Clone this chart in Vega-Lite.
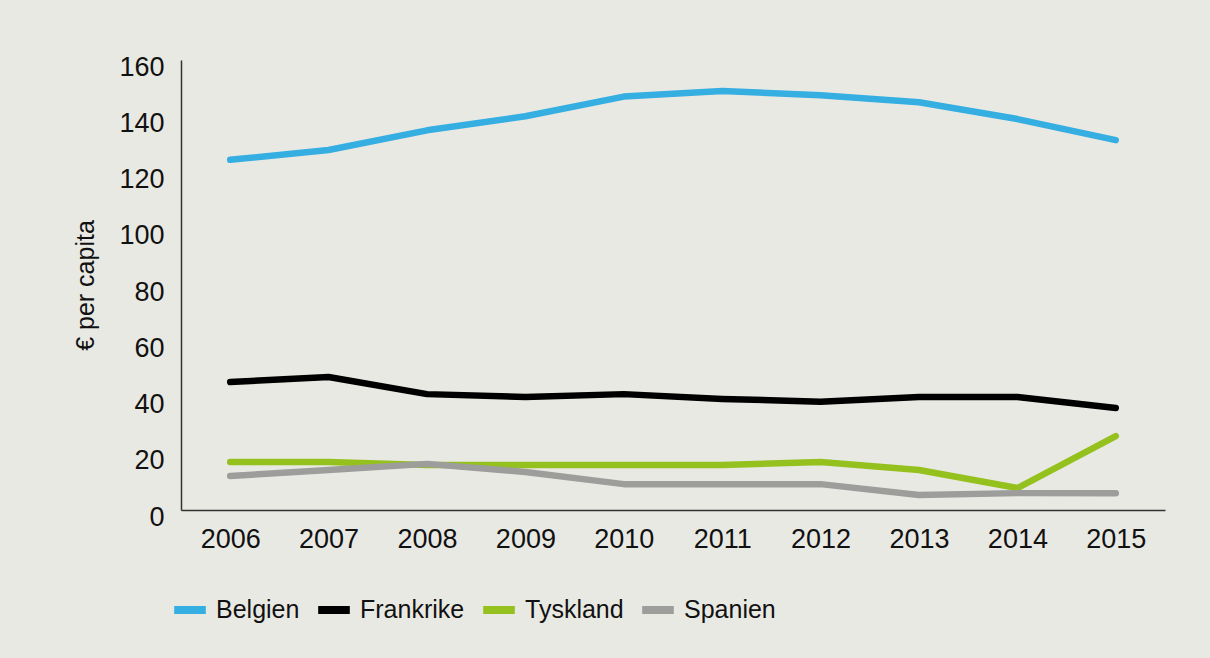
{
  "$schema": "https://vega.github.io/schema/vega-lite/v6.json",
  "width": 984,
  "height": 450,
  "autosize": {"type": "none"},
  "padding": {"left": 181, "top": 60, "right": 45, "bottom": 148},
  "background": "#e9e9e4",
  "config": {
    "view": {"stroke": null},
    "font": "Liberation Sans"
  },
  "data": {
    "values": [
      {"year": "2006", "country": "Belgien", "value": 124.5},
      {"year": "2007", "country": "Belgien", "value": 128},
      {"year": "2008", "country": "Belgien", "value": 135},
      {"year": "2009", "country": "Belgien", "value": 140},
      {"year": "2010", "country": "Belgien", "value": 147},
      {"year": "2011", "country": "Belgien", "value": 149},
      {"year": "2012", "country": "Belgien", "value": 147.5},
      {"year": "2013", "country": "Belgien", "value": 145},
      {"year": "2014", "country": "Belgien", "value": 139},
      {"year": "2015", "country": "Belgien", "value": 131.5},
      {"year": "2006", "country": "Frankrike", "value": 45.5},
      {"year": "2007", "country": "Frankrike", "value": 47.3},
      {"year": "2008", "country": "Frankrike", "value": 41.2},
      {"year": "2009", "country": "Frankrike", "value": 40.2},
      {"year": "2010", "country": "Frankrike", "value": 41.2},
      {"year": "2011", "country": "Frankrike", "value": 39.5},
      {"year": "2012", "country": "Frankrike", "value": 38.5},
      {"year": "2013", "country": "Frankrike", "value": 40.2},
      {"year": "2014", "country": "Frankrike", "value": 40.2},
      {"year": "2015", "country": "Frankrike", "value": 36.3},
      {"year": "2006", "country": "Tyskland", "value": 17.1},
      {"year": "2007", "country": "Tyskland", "value": 17.1},
      {"year": "2008", "country": "Tyskland", "value": 16},
      {"year": "2009", "country": "Tyskland", "value": 16},
      {"year": "2010", "country": "Tyskland", "value": 16},
      {"year": "2011", "country": "Tyskland", "value": 16},
      {"year": "2012", "country": "Tyskland", "value": 17.1},
      {"year": "2013", "country": "Tyskland", "value": 14.2},
      {"year": "2014", "country": "Tyskland", "value": 7.8},
      {"year": "2015", "country": "Tyskland", "value": 26.3},
      {"year": "2006", "country": "Spanien", "value": 12.1},
      {"year": "2007", "country": "Spanien", "value": 14.2},
      {"year": "2008", "country": "Spanien", "value": 16.4},
      {"year": "2009", "country": "Spanien", "value": 13.5},
      {"year": "2010", "country": "Spanien", "value": 9.2},
      {"year": "2011", "country": "Spanien", "value": 9.2},
      {"year": "2012", "country": "Spanien", "value": 9.2},
      {"year": "2013", "country": "Spanien", "value": 5.3},
      {"year": "2014", "country": "Spanien", "value": 6},
      {"year": "2015", "country": "Spanien", "value": 6}
    ]
  },
  "mark": {"type": "line", "strokeWidth": 6.5, "strokeCap": "round", "strokeJoin": "round"},
  "encoding": {
    "x": {
      "field": "year",
      "type": "ordinal",
      "scale": {"type": "point", "padding": 0.5},
      "axis": {
        "title": null,
        "labelAngle": 0,
        "ticks": false,
        "grid": false,
        "domainColor": "#333333",
        "domainWidth": 1.5,
        "labelFontSize": 27,
        "labelColor": "#111111",
        "labelPadding": 16
      }
    },
    "y": {
      "field": "value",
      "type": "quantitative",
      "scale": {"domain": [0, 160], "nice": false, "zero": true},
      "axis": {
        "title": "€ per capita",
        "titleFontSize": 25,
        "titleFontWeight": "normal",
        "titleColor": "#111111",
        "titlePadding": 20,
        "values": [0, 20, 40, 60, 80, 100, 120, 140, 160],
        "ticks": false,
        "grid": false,
        "domainColor": "#333333",
        "domainWidth": 1.5,
        "labelFontSize": 27,
        "labelColor": "#111111",
        "labelPadding": 17,
        "labelOffset": 7
      }
    },
    "color": {
      "field": "country",
      "type": "nominal",
      "sort": ["Belgien", "Frankrike", "Tyskland", "Spanien"],
      "scale": {
        "domain": ["Belgien", "Frankrike", "Tyskland", "Spanien"],
        "range": ["#35aee2", "#000000", "#95c11f", "#9d9d9c"]
      },
      "legend": {
        "title": null,
        "orient": "none",
        "direction": "horizontal",
        "legendX": -11,
        "legendY": 530,
        "symbolType": "stroke",
        "symbolStrokeWidth": 8,
        "symbolSize": 1000,
        "labelFont": "Liberation Sans",
        "labelFontSize": 25,
        "labelColor": "#111111",
        "labelOffset": 6,
        "columnPadding": 2
      }
    }
  }
}
